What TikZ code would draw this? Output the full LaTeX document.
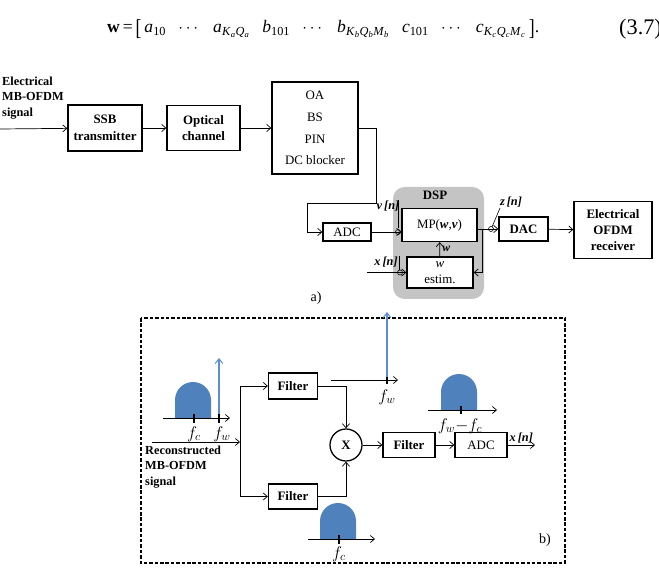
\documentclass[tikz,border=0pt]{standalone}
\usepackage{fontspec}
\setmainfont{Liberation Serif}
\usepackage{amsmath}
\usepackage{graphicx}
\usepackage{tikz}
\usetikzlibrary{arrows.meta, positioning, calc}
\definecolor{specBlue}{HTML}{4F81BD}
\definecolor{toneBlue}{HTML}{5B8FCC}
\definecolor{dspGray}{HTML}{C4C4C4}
\newcommand{\eqsub}[2]{\textit{#1}\textsubscript{#2}}

\begin{document}
\begin{tikzpicture}[
    x=0.03cm, y=0.03cm,
    box/.style={draw, line width=1.1pt, inner sep=1pt, align=center, font=\fontsize{11}{14}\selectfont},
    boldbox/.style={box, font=\bfseries\fontsize{11}{14}\selectfont},
    arrow/.style={-{Straight Barb[length=3.5pt,width=6pt]}, line width=0.6pt},
    tone/.style={-{Straight Barb[length=4pt,width=6.5pt]}, line width=0.9pt, toneBlue},
    tick/.style={line width=1.3pt},
    flab/.style={font=\Large, inner sep=1pt},
    smp/.style={font=\bfseries\itshape\fontsize{10.5}{12}\selectfont, inner sep=1pt},
    hump/.style={fill=specBlue},
]
    \useasboundingbox (0,0) rectangle (659,-569);

    % equation line
    \node[anchor=west, inner sep=0pt, font=\fontsize{15}{18}\selectfont] (eqn) at (107,-29)
      {\textbf{w}\,=\,\raisebox{-0.15em}{\scalebox{1}[1.3]{[}}\,\eqsub{a}{10}\hspace{0.7em}$\cdots$\hspace{0.7em}%
       \eqsub{a}{\eqsub{K}{\textit{a}}\eqsub{Q}{\textit{a}}}\hspace{0.7em}\eqsub{b}{101}\hspace{0.7em}$\cdots$\hspace{0.7em}%
       \eqsub{b}{\eqsub{K}{\textit{b}}\eqsub{Q}{\textit{b}}\eqsub{M}{\textit{b}}}\hspace{0.7em}\eqsub{c}{101}\hspace{0.7em}$\cdots$\hspace{0.7em}%
       \eqsub{c}{\eqsub{K}{\textit{c}}\eqsub{Q}{\textit{c}}\eqsub{M}{\textit{c}}}\,\raisebox{-0.15em}{\scalebox{1}[1.3]{]}}.};
    \node[anchor=west, inner sep=0pt, font=\fontsize{19}{22}\selectfont] (eqnum) at (619,-29) {(3.7)};

    % a) transmission chain
    \node[anchor=north west, align=left, inner sep=0pt, font=\bfseries\fontsize{10.5}{13}\selectfont] (srcA) at (2,-77) {Electrical\\MB-OFDM\\signal};
    \coordinate (inA) at (0,-129);
    \node[boldbox, minimum width=2.22cm, minimum height=1.38cm] (ssb) at (105,-128) {SSB\\transmitter};
    \node[boldbox, minimum width=2.19cm, minimum height=1.35cm] (channel) at (203.5,-128) {Optical\\channel};
    \node[box, font=\fontsize{11}{18.5}\selectfont, minimum width=2.58cm, minimum height=2.76cm] (frontend) at (315,-128) {OA\\BS\\PIN\\DC blocker};

    \fill[dspGray, rounded corners=10pt] (393,-187) rectangle (484,-299);
    \node[font=\bfseries\fontsize{11}{13}\selectfont] (dsp) at (435,-195) {DSP};

    \node[box, minimum width=1.44cm, minimum height=0.54cm] (adc) at (347,-232) {ADC};
    \node[box, fill=white, minimum width=2.25cm, minimum height=0.99cm] (mp) at (439.5,-225) {MP(\textit{\textbf{w}},\textit{\textbf{v}})};
    \node[box, fill=white, minimum width=1.98cm, minimum height=0.93cm] (estim) at (440,-272.5) {\textit{w}\\estim.};
    \node[boldbox, minimum width=1.47cm, minimum height=0.72cm] (dac) at (523.5,-229) {DAC};
    \node[boldbox, minimum width=2.34cm, minimum height=1.71cm] (receiver) at (613,-230) {Electrical\\OFDM\\receiver};
    \coordinate (xinA) at (367,-272.5);
    \coordinate (fb) at ($(mp.east |- dac.west)+(5,0)$);

    \draw[arrow] (inA) -- (ssb);
    \draw[arrow] (ssb) -- (channel);
    \draw[arrow] (channel) -- (frontend);
    \draw[arrow] (frontend.east) -- ++(18,0) -- ++(0,-75) -- ++(-69,0) |- (adc.west);
    \draw[arrow] (adc.east) -- (adc.east -| mp.west);
    \draw[arrow] (mp.east |- dac.west) -- (dac.west);
    \draw[arrow] (dac) -- (receiver);
    \draw[arrow] (fb) |- (estim.east);
    \draw[arrow] (estim) -- (mp) node[midway, right, inner sep=2pt, font=\bfseries\itshape] {w};
    \draw[arrow] (xinA) -- (estim.west);

    % sample labels
    \node[smp] (vlab) at (388,-206) {v\,[n]};
    \draw[line width=0.5pt] (398,-200) -- (398,-228);
    \draw[line width=0.5pt] (398,-232) circle[radius=2.5];
    \node[smp] (zlab) at (511,-202) {z\,[n]};
    \draw[line width=0.5pt] (492,-227) -- (500,-208);
    \draw[line width=0.5pt] (491,-229) circle[radius=2.5];
    \node[smp] (xlabA) at (386,-262) {x\,[n]};
    \draw[line width=0.5pt] (399,-256) -- (399,-270);
    \draw[line width=0.5pt] (400,-272.5) circle[radius=2.5];

    \node[font=\fontsize{12}{14}\selectfont] (tagA) at (316,-298) {a)};

    % b) estimation front end
    \draw[line width=1pt, dash pattern=on 3pt off 1.6pt] (141,-318) rectangle (565,-563);
    \node[font=\fontsize{12}{14}\selectfont] (tagB) at (545,-540) {b)};

    \node[anchor=north west, align=left, inner sep=0pt, font=\bfseries\fontsize{10.5}{13}\selectfont] (srcB) at (145,-446) {Reconstructed\\MB-OFDM\\signal};
    \coordinate (inB) at (152,-442);
    \coordinate (split) at (240,-442);
    \node[boldbox, minimum width=1.47cm, minimum height=0.78cm] (filterA) at (293,-386) {Filter};
    \node[boldbox, minimum width=1.47cm, minimum height=0.75cm] (filterB) at (293,-496.5) {Filter};
    \node[draw, circle, line width=1.1pt, minimum size=0.96cm, inner sep=0pt, font=\bfseries\fontsize{11}{13}\selectfont] (mixer) at (346,-445) {X};
    \node[boldbox, minimum width=1.56cm, minimum height=0.75cm] (filterC) at (409,-445) {Filter};
    \node[box, minimum width=1.56cm, minimum height=0.75cm] (adcB) at (481,-445) {ADC};
    \coordinate (xout) at (535,-445);

    \draw[arrow] (inB) -- (split);
    \draw[arrow] (split) |- (filterA.west);
    \draw[arrow] (split) |- (filterB.west);
    \draw[arrow] (filterA.east) -| (mixer.north);
    \draw[arrow] (filterB.east) -| (mixer.south);
    \draw[arrow] (mixer) -- (filterC);
    \draw[arrow] (filterC) -- (adcB);
    \draw[arrow] (adcB) -- (xout) node[midway, above, smp] {x\,[n]};

    % spectrum at the input
    \fill[hump] (175,-418) -- (175,-400) arc[start angle=180, end angle=0, radius=18] -- (211,-418) -- cycle;
    \draw[arrow] (163,-418) -- (230,-418);
    \draw[tone] (219,-418) -- (219,-358);
    \draw[tick] (194,-414) -- (194,-423);
    \draw[tick] (219,-414) -- (219,-423);
    \node[flab] (fcA) at (194,-434) {$f_c$};
    \node[flab] (fwA) at (222,-434) {$f_w$};

    % spectrum of the tone
    \draw[arrow] (331,-380) -- (398,-380);
    \draw[tone] (387,-380) -- (387,-312);
    \draw[tick] (387,-377) -- (387,-384);
    \node[flab] (fwB) at (387,-397) {$f_w$};

    % spectrum after mixing
    \fill[hump] (441,-410) -- (441,-392) arc[start angle=180, end angle=0, radius=18] -- (477,-410) -- cycle;
    \draw[arrow] (428,-410) -- (497,-410);
    \draw[tick] (461,-406) -- (461,-414);
    \node[flab] (fdiff) at (460,-426) {$f_w{-}f_c$};

    % spectrum at the lower branch
    \fill[hump] (320,-539) -- (320,-521) arc[start angle=180, end angle=0, radius=18] -- (356,-539) -- cycle;
    \draw[arrow] (308,-539) -- (375,-539);
    \draw[tick] (339,-535) -- (339,-544);
    \node[flab] (fcB) at (339,-554) {$f_c$};
\end{tikzpicture}
\end{document}
